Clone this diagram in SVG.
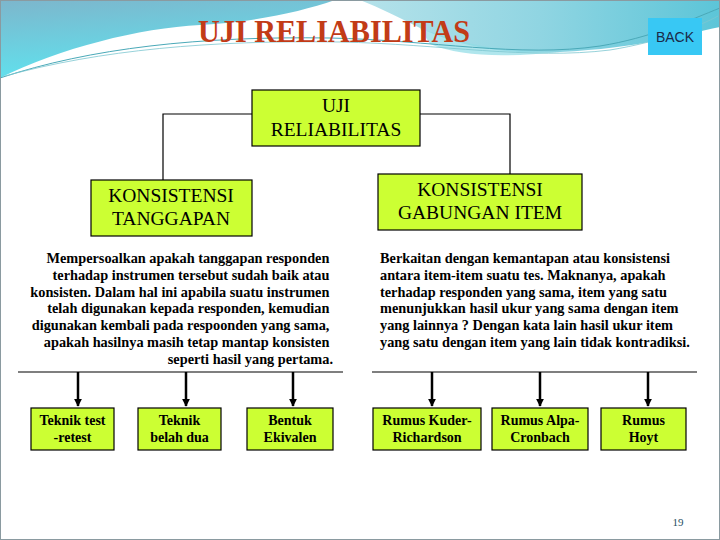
<svg xmlns="http://www.w3.org/2000/svg" width="720" height="540" viewBox="0 0 720 540">
<defs>
<linearGradient id="gL" x1="0" y1="0" x2="0.3" y2="1">
<stop offset="0" stop-color="#7db6cc"/>
<stop offset="1" stop-color="#5fe3ef"/>
</linearGradient>
<linearGradient id="gR" x1="0" y1="0" x2="1" y2="0">
<stop offset="0" stop-color="#b5e2ea"/>
<stop offset="0.5" stop-color="#90d5e2"/>
<stop offset="1" stop-color="#5cc5d8"/>
</linearGradient>
<marker id="ah" viewBox="0 0 10 10" refX="9" refY="5" markerWidth="3.2" markerHeight="3.2" orient="auto">
<path d="M0,0 L10,5 L0,10 Z" fill="#000"/>
</marker>
<style>
.box{fill:#ccff33;stroke:#000;stroke-width:1.2}
.lbl{font-family:"Liberation Serif",serif;font-size:19.5px;fill:#000;text-anchor:middle}
.sm{font-family:"Liberation Serif",serif;font-size:14px;font-weight:bold;fill:#000;text-anchor:middle}
.para{font-family:"Liberation Serif",serif;font-size:14.3px;font-weight:bold;fill:#000}
.ln{stroke:#000;stroke-width:1.2;fill:none}
.arr{stroke:#000;stroke-width:2.5;fill:none;marker-end:url(#ah)}
</style>
</defs>
<rect x="0" y="0" width="720" height="540" fill="#ffffff"/>
<g id="background">
<path d="M0,0 L335,0 C300,12 255,22 200,25 C140,28 60,48 0,78 Z" fill="url(#gL)"/>
<path d="M360,0 L720,0 L720,27 C680,35 640,48 560,52 C500,55 455,45 420,28 C400,18 380,8 360,0 Z" fill="url(#gR)"/>
<path d="M420,28 C460,44 500,52 560,52 C500,58 460,56 430,44 Z" fill="#8fdbe6" opacity="0.7"/>
<path d="M0,78 C90,48 200,36 330,38 C430,40 520,58 600,46 C650,38 690,20 720,8" fill="none" stroke="#4aa9b8" stroke-width="1"/>
<path d="M5,76 C100,50 210,40 340,42 C440,44 530,60 610,50 C660,42 700,26 718,16" fill="none" stroke="#7cc6d1" stroke-width="0.8"/>
<rect x="0.5" y="0.5" width="719" height="539" fill="none" stroke="#8a9aa0" stroke-width="1"/>
</g>
<text id="title" x="198" y="42" font-family="Liberation Serif, serif" font-size="32" font-weight="bold" fill="#c23b17" textLength="272" lengthAdjust="spacingAndGlyphs">UJI RELIABILITAS</text>
<g id="back">
<rect x="648" y="18" width="54" height="37" fill="#38c8f4"/>
<text x="675" y="42" font-family="Liberation Sans, sans-serif" font-size="14" fill="#1b2a48" text-anchor="middle">BACK</text>
</g>
<g id="connectors">
<path class="ln" d="M252,114 L163,114 L163,180"/>
<path class="ln" d="M420,114 L510,114 L510,174"/>
<path class="ln" d="M18,372 L343,372"/>
<path class="ln" d="M372,372 L697,372"/>
<path class="arr" d="M78,372 L78,406"/>
<path class="arr" d="M186,372 L186,406"/>
<path class="arr" d="M293,372 L293,406"/>
<path class="arr" d="M432,372 L432,406"/>
<path class="arr" d="M540,372 L540,406"/>
<path class="arr" d="M648,372 L648,406"/>
</g>
<g id="root">
<rect class="box" x="252" y="90" width="168" height="56"/>
<text class="lbl" x="336" y="112">UJI</text>
<text class="lbl" x="336" y="136">RELIABILITAS</text>
</g>
<g id="konsistensi-tanggapan">
<rect class="box" x="91" y="180" width="161" height="56"/>
<text class="lbl" x="171" y="202">KONSISTENSI</text>
<text class="lbl" x="171" y="225">TANGGAPAN</text>
</g>
<g id="konsistensi-gabungan">
<rect class="box" x="378" y="174" width="204" height="56"/>
<text class="lbl" x="480" y="196">KONSISTENSI</text>
<text class="lbl" x="480" y="219">GABUNGAN ITEM</text>
</g>
<g id="desc-left">
<text class="para" text-anchor="end">
<tspan x="333" y="263">Mempersoalkan apakah tanggapan responden</tspan>
<tspan x="333" y="279.8">terhadap instrumen tersebut sudah baik atau</tspan>
<tspan x="333" y="296.6">konsisten. Dalam hal ini apabila suatu instrumen</tspan>
<tspan x="333" y="313.4">telah digunakan kepada responden, kemudian</tspan>
<tspan x="333" y="330.2">digunakan kembali pada respoonden yang sama,</tspan>
<tspan x="333" y="347">apakah hasilnya masih tetap mantap konsisten</tspan>
<tspan x="333" y="363.8">seperti hasil yang pertama.</tspan>
</text>
</g>
<g id="desc-right">
<text class="para">
<tspan x="380" y="263">Berkaitan dengan kemantapan atau konsistensi</tspan>
<tspan x="380" y="279.8">antara item-item suatu tes. Maknanya, apakah</tspan>
<tspan x="380" y="296.6">terhadap responden yang sama, item yang satu</tspan>
<tspan x="380" y="313.4">menunjukkan hasil ukur yang sama dengan item</tspan>
<tspan x="380" y="330.2">yang lainnya ? Dengan kata lain hasil ukur item</tspan>
<tspan x="380" y="347">yang satu dengan item yang lain tidak kontradiksi.</tspan>
</text>
</g>
<g id="test-retest">
<rect class="box" x="31" y="408" width="83" height="42"/>
<text class="sm" x="72.5" y="425">Teknik test</text>
<text class="sm" x="72.5" y="442">-retest</text>
</g>
<g id="belah-dua">
<rect class="box" x="138" y="408" width="83" height="42"/>
<text class="sm" x="179.5" y="425">Teknik</text>
<text class="sm" x="179.5" y="442">belah dua</text>
</g>
<g id="ekivalen">
<rect class="box" x="247" y="408" width="86" height="42"/>
<text class="sm" x="290" y="425">Bentuk</text>
<text class="sm" x="290" y="442">Ekivalen</text>
</g>
<g id="kuder-richardson">
<rect class="box" x="373" y="408" width="108" height="42"/>
<text class="sm" x="427" y="425">Rumus Kuder-</text>
<text class="sm" x="427" y="442">Richardson</text>
</g>
<g id="alpa-cronbach">
<rect class="box" x="492" y="408" width="96" height="42"/>
<text class="sm" x="540" y="425">Rumus Alpa-</text>
<text class="sm" x="540" y="442">Cronbach</text>
</g>
<g id="hoyt">
<rect class="box" x="601" y="408" width="85" height="42"/>
<text class="sm" x="643.5" y="425">Rumus</text>
<text class="sm" x="643.5" y="442">Hoyt</text>
</g>
<text id="page-number" x="678" y="526" font-family="Liberation Serif, serif" font-size="11" fill="#1f4e5f" text-anchor="middle">19</text>
</svg>
